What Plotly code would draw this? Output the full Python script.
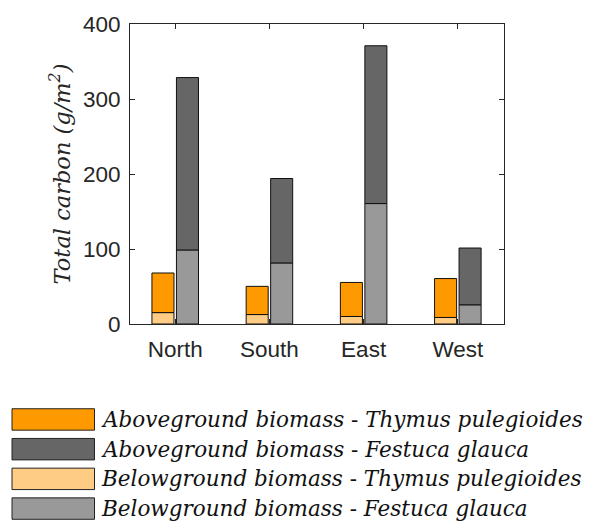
import plotly.graph_objects as go

regions = ["North", "South", "East", "West"]
thymus_below = [15.2, 12.6, 10.0, 8.7]
thymus_above = [52.8, 37.6, 45.4, 51.9]
festuca_below = [98.7, 81.4, 160.6, 25.6]
festuca_above = [229.9, 112.6, 210.4, 75.7]

series_names = [
    "Aboveground biomass - Thymus pulegioides",
    "Aboveground biomass - Festuca glauca",
    "Belowground biomass - Thymus pulegioides",
    "Belowground biomass - Festuca glauca",
]
legend_labels = [
    "<i>Aboveground biomass</i> - <i>Thymus pulegioides</i>",
    "<i>Aboveground biomass</i> - <i>Festuca glauca</i>",
    "<i>Belowground biomass</i> - <i>Thymus pulegioides</i>",
    "<i>Belowground biomass</i> - <i>Festuca glauca</i>",
]
colors = ["#FF9900", "#666666", "#FFCC85", "#999999"]

serif = "DejaVu Serif"
sans = "Liberation Sans, Arial, sans-serif"
axis_col = "#262626"

fig = go.Figure()
line = dict(color="#111111", width=1)

fig.add_trace(go.Bar(x=regions, y=thymus_below, offsetgroup="T", name=series_names[2],
                     marker=dict(color=colors[2], line=line), showlegend=False))
fig.add_trace(go.Bar(x=regions, y=thymus_above, base=thymus_below, offsetgroup="T", name=series_names[0],
                     marker=dict(color=colors[0], line=line), showlegend=False))
fig.add_trace(go.Bar(x=regions, y=festuca_below, offsetgroup="F", name=series_names[3],
                     marker=dict(color=colors[3], line=line), showlegend=False))
fig.add_trace(go.Bar(x=regions, y=festuca_above, base=festuca_below, offsetgroup="F", name=series_names[1],
                     marker=dict(color=colors[1], line=line), showlegend=False))

# custom legend (large swatches like the original)
row_y0 = 411
row_step = 30.5
for i, (lab, col) in enumerate(zip(legend_labels, colors)):
    y0 = row_y0 + i * row_step
    fig.add_shape(type="rect", xref="paper", yref="paper",
                  x0=(12 - 130) / 374, x1=(94.5 - 130) / 374,
                  y0=(324 - y0) / 308, y1=(324 - (y0 + 22)) / 308,
                  fillcolor=col, line=dict(color="#222222", width=1))
    fig.add_annotation(xref="paper", yref="paper", x=(99 - 130) / 374, y=(324 - (y0 + 11)) / 308,
                       xanchor="left", yanchor="middle", showarrow=False, text=lab,
                       font=dict(family=serif, size=21.5, color="#111111"))

fig.update_layout(
    width=589, height=526,
    margin=dict(l=130, r=85, t=16, b=202),
    paper_bgcolor="white", plot_bgcolor="white",
    barmode="group", bargap=0.48, bargroupgap=0.1,
    showlegend=False,
)
fig.update_xaxes(range=[-0.48, 3.49], showline=True, linecolor=axis_col, linewidth=1, mirror="ticks",
                 ticks="inside", ticklen=5, tickcolor=axis_col, showgrid=False,
                 ticklabelstandoff=5,
                 tickfont=dict(family=sans, size=22.5, color=axis_col))
fig.update_yaxes(range=[0, 400], dtick=100, showline=True, linecolor=axis_col, linewidth=1, mirror="ticks",
                 ticks="inside", ticklen=5, tickcolor=axis_col, showgrid=False, zeroline=False,
                 ticklabelstandoff=4,
                 tickfont=dict(family=sans, size=22.5, color=axis_col),
                 title=dict(text="<i>Total carbon (g/m<sup>2</sup>)</i>", standoff=6,
                            font=dict(family=serif, size=22.5, color="#262626")))

fig.write_html("out.html")
